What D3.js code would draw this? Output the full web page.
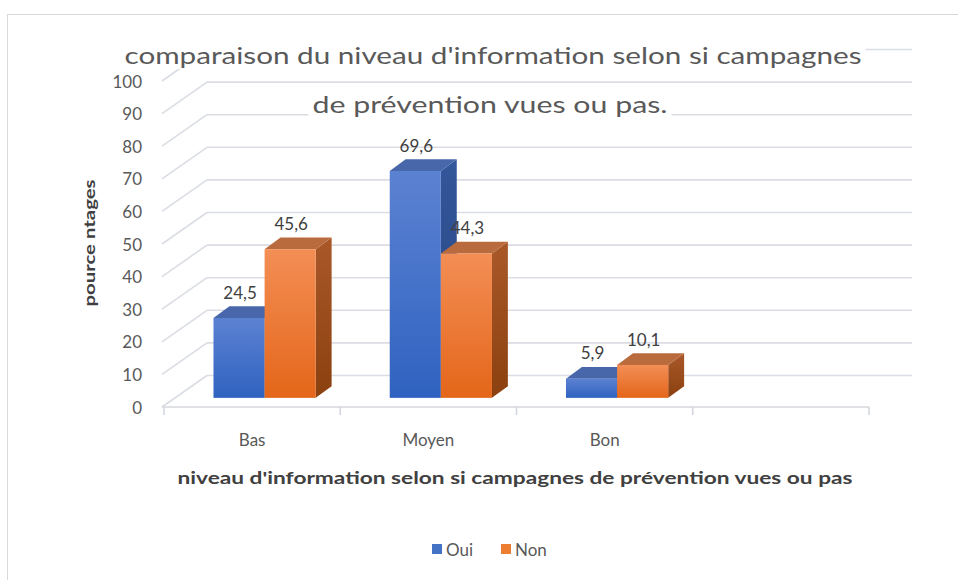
<!DOCTYPE html>
<html>
<head>
<meta charset="utf-8">
<script src="https://cdn.jsdelivr.net/npm/d3@7"></script>
<style>
  html, body { margin: 0; padding: 0; background: #fff; }
  svg { display: block; }
</style>
</head>
<body>
<svg id="chart" width="958" height="580"></svg>
<script>
// ---- data ----
const categories = ["Bas", "Moyen", "Bon", ""];
const seriesNames = ["Oui", "Non"];
const ouiValues = [24.5, 69.6, 5.9];
const nonValues = [45.6, 44.3, 10.1];
const yTicks = [0, 10, 20, 30, 40, 50, 60, 70, 80, 90, 100];
const titleLines = ["comparaison du  niveau d'information  selon si campagnes", "de prévention vues ou pas."];
const yTitle = "pource ntages";
const xTitle = "niveau d'information  selon si campagnes de prévention  vues ou pas";

// ---- layout ----
const svg = d3.select("#chart");
const DX = 43, DY = 31.5;          // depth projection offsets
const D0 = 0.29, D1 = 0.66;        // bar depth range
const textCol = "#595959";
const gridCol = "#dadde3";
const font = "Lato, 'Liberation Sans', sans-serif";

const x = d3.scaleBand().domain(categories).range([164, 869]).paddingInner(0.42).paddingOuter(0.21);
const xs = d3.scaleBand().domain(seriesNames).range([0, x.bandwidth()]);
const y = d3.scaleLinear().domain([0, 100]).range([407, 81]);
const P = (xf, v, d) => [xf + DX * d, y(v) - DY * d];

// border
svg.append("rect").attr("x", 7.5).attr("y", 14.5).attr("width", 1000).attr("height", 600)
  .attr("fill", "#fff").attr("stroke", "#d9d9d9").attr("stroke-width", 1);

// defs gradients
const defs = svg.append("defs");
function grad(id, c1, c2) {
  const g = defs.append("linearGradient").attr("id", id).attr("x1", 0).attr("y1", 0).attr("x2", 0).attr("y2", 1);
  g.append("stop").attr("offset", "0%").attr("stop-color", c1);
  g.append("stop").attr("offset", "100%").attr("stop-color", c2);
}
grad("gOuiFront", "#5c82d2", "#2f62c0");
grad("gOuiSide", "#34569a", "#25447f");
grad("gNonFront", "#f38e55", "#e4661a");
grad("gNonSide", "#a9582a", "#8b400f");
const styles = {
  Oui: { front: "url(#gOuiFront)", side: "url(#gOuiSide)", top: "#4767aa", legend: "#4472c4" },
  Non: { front: "url(#gNonFront)", side: "url(#gNonSide)", top: "#b96b3e", legend: "#ed7d31" }
};

// gridlines (back wall + left wall)
const x0 = x.range()[0], x1 = x.range()[1];
const grid = svg.append("g").attr("stroke", gridCol).attr("stroke-width", 1.6).attr("fill", "none");
yTicks.forEach(v => {
  const a = P(x0, v, 1), b = P(x1, v, 1), c = P(x0 - 2, v, 0);
  grid.append("line").attr("x1", a[0]).attr("y1", a[1]).attr("x2", b[0]).attr("y2", b[1]);
  grid.append("line").attr("x1", c[0]).attr("y1", c[1]).attr("x2", a[0]).attr("y2", a[1]);
});

// front x axis line and ticks
const axisG = svg.append("g").attr("stroke", "#d4d7dd").attr("stroke-width", 1.6);
axisG.append("line").attr("x1", x0 - 2).attr("y1", y(0)).attr("x2", x1).attr("y2", y(0));
const boundaries = categories.map(c => x(c) - x.step() * 0.21).concat([x1]);
boundaries.forEach(bx => {
  axisG.append("line").attr("x1", bx).attr("y1", y(0)).attr("x2", bx).attr("y2", y(0) + 8);
});

// bars
const valuesBySeries = { Oui: ouiValues, Non: nonValues };
const barsG = svg.append("g");
const labelsData = [];
categories.forEach((cat, ci) => {
  seriesNames.forEach(s => {
    const v = valuesBySeries[s][ci];
    if (v === undefined) return;
    const xa = x(cat) + xs(s), xb = xa + xs.bandwidth();
    const st = styles[s];
    const poly = pts => pts.map(p => p.join(",")).join(" ");
    barsG.append("polygon").attr("points", poly([P(xb, v, D0), P(xb, 0, D0), P(xb, 0, D1), P(xb, v, D1)]))
      .attr("fill", st.side);
    barsG.append("polygon").attr("points", poly([P(xa, v, D0), P(xb, v, D0), P(xb, v, D1), P(xa, v, D1)]))
      .attr("fill", st.top);
    const f0 = P(xa, v, D0), f1 = P(xb, 0, D0);
    barsG.append("rect").attr("x", f0[0]).attr("y", f0[1]).attr("width", f1[0] - f0[0]).attr("height", f1[1] - f0[1])
      .attr("fill", st.front);
    labelsData.push({ x: (f0[0] + f1[0]) / 2 + 1, y: P(xa, v, D1)[1] - 14, v });
  });
});

// data labels
svg.append("g").selectAll("text").data(labelsData).join("text")
  .attr("x", d => d.x).attr("y", d => d.y)
  .attr("text-anchor", "middle").attr("dominant-baseline", "central")
  .attr("font-family", font).attr("font-size", 17).attr("fill", "#404040")
  .text(d => String(d.v).replace(".", ","));

// y axis labels
svg.append("g").selectAll("text").data(yTicks).join("text")
  .attr("x", 142).attr("y", d => y(d)).attr("text-anchor", "end").attr("dominant-baseline", "central")
  .attr("font-family", font).attr("font-size", 17).attr("fill", textCol)
  .text(d => d);

// x axis labels
svg.append("g").selectAll("text").data(categories.filter(c => c !== "")).join("text")
  .attr("x", d => x(d) + x.bandwidth() / 2).attr("y", 439)
  .attr("text-anchor", "middle").attr("dominant-baseline", "central")
  .attr("font-family", font).attr("font-size", 17).attr("fill", textCol)
  .text(d => d);

// axis titles
svg.append("text").attr("transform", "translate(88,243) rotate(-90)")
  .attr("text-anchor", "middle").attr("dominant-baseline", "central")
  .attr("font-family", font).attr("font-weight", "bold").attr("font-size", 16).attr("fill", "#404040")
  .attr("textLength", 127).attr("lengthAdjust", "spacingAndGlyphs")
  .text(yTitle);
svg.append("text").attr("x", 515).attr("y", 477)
  .attr("text-anchor", "middle").attr("dominant-baseline", "central")
  .attr("font-family", font).attr("font-weight", "bold").attr("font-size", 17.5).attr("fill", "#404040")
  .attr("textLength", 675).attr("lengthAdjust", "spacingAndGlyphs")
  .text(xTitle);

// title (with white backing)
const titlePos = [{ cx: 493, cy: 55, w: 737 }, { cx: 490, cy: 104, w: 355 }];
titleLines.forEach((t, i) => {
  const p = titlePos[i];
  svg.append("rect").attr("x", p.cx - p.w / 2 - 4).attr("y", p.cy - 14).attr("width", p.w + 8).attr("height", 28)
    .attr("fill", "#fff");
  svg.append("text").attr("x", p.cx).attr("y", p.cy)
    .attr("text-anchor", "middle").attr("dominant-baseline", "central")
    .attr("font-family", font).attr("font-size", 23).attr("fill", textCol)
    .attr("textLength", p.w).attr("lengthAdjust", "spacingAndGlyphs")
    .text(t);
});

// legend
const legendItems = [{ s: "Oui", x: 432 }, { s: "Non", x: 501 }];
const lg = svg.append("g");
legendItems.forEach(it => {
  lg.append("rect").attr("x", it.x).attr("y", 544).attr("width", 10).attr("height", 10).attr("fill", styles[it.s].legend);
  lg.append("text").attr("x", it.x + 14).attr("y", 549).attr("dominant-baseline", "central")
    .attr("font-family", font).attr("font-size", 17).attr("fill", textCol).text(it.s);
});
</script>
</body>
</html>
